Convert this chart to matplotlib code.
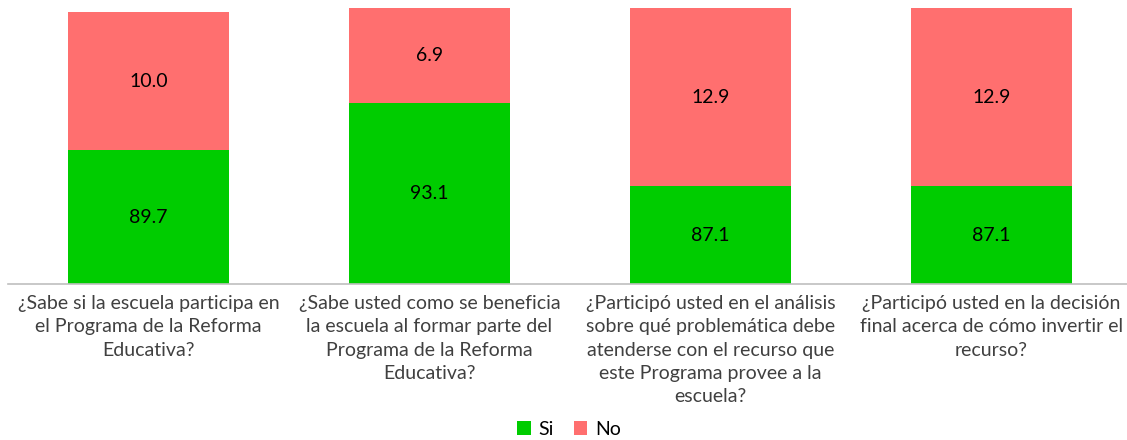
import matplotlib
matplotlib.use("Agg")
import matplotlib.pyplot as plt
import numpy as np

categories = [
    "¿Sabe si la escuela participa en\nel Programa de la Reforma\nEducativa?",
    "¿Sabe usted como se beneficia\nla escuela al formar parte del\nPrograma de la Reforma\nEducativa?",
    "¿Participó usted en el análisis\nsobre qué problemática debe\natenderse con el recurso que\neste Programa provee a la\nescuela?",
    "¿Participó usted en la decisión\nfinal acerca de cómo invertir el\nrecurso?",
]
si_values = [89.7, 93.1, 87.1, 87.1]
no_values = [10.0, 6.9, 12.9, 12.9]
series_names = ["Si", "No"]

GREEN = "#00CC00"
RED = "#FF6F6F"
plt.rcParams['font.family'] = ['Lato', 'DejaVu Sans']

W, H = 1127, 440
fig = plt.figure(figsize=(W / 100, H / 100), dpi=100)
ax = fig.add_axes([8 / W, (H - 284) / H, 1 - 8 / W, (284 - 8) / H])

x = np.arange(len(categories))
width = 0.573
ymin, ymax = 80, 100
FS = 14
b1 = ax.bar(x, si_values, width, color=GREEN, label=series_names[0], zorder=2)
b2 = ax.bar(x, no_values, width, bottom=si_values, color=RED, label=series_names[1], zorder=2)
ax.set_ylim(ymin, ymax)
ax.set_xlim(-0.5, (W - 148.5) / 281)

for i in range(len(categories)):
    lo, hi = max(ymin, 0), min(ymax, si_values[i])
    ax.text(x[i], (lo + hi) / 2, f"{si_values[i]:.1f}", ha="center", va="center",
            fontsize=FS, color="#000000", zorder=3)
    lo2 = max(ymin, si_values[i])
    hi2 = min(ymax, si_values[i] + no_values[i])
    ax.text(x[i], (lo2 + hi2) / 2, f"{no_values[i]:.1f}", ha="center", va="center",
            fontsize=FS, color="#000000", zorder=3)

for s in ["top", "right", "left"]:
    ax.spines[s].set_visible(False)
ax.spines["bottom"].set_color("#BFBFBF")
ax.spines["bottom"].set_linewidth(1.2)
ax.set_yticks([])
ax.set_xticks(x)
ax.set_xticklabels(categories, fontsize=FS, color="#404040", linespacing=1.45)
ax.tick_params(axis="x", length=0, pad=8)

fig.legend(handles=[b1, b2], labels=series_names, loc="center",
           bbox_to_anchor=(0.505, 1 - 429 / H), ncol=2, frameon=False,
           fontsize=FS, handlelength=0.7, handleheight=0.7, handletextpad=0.4,
           columnspacing=1.0)

fig.savefig("out.png", dpi=100)
